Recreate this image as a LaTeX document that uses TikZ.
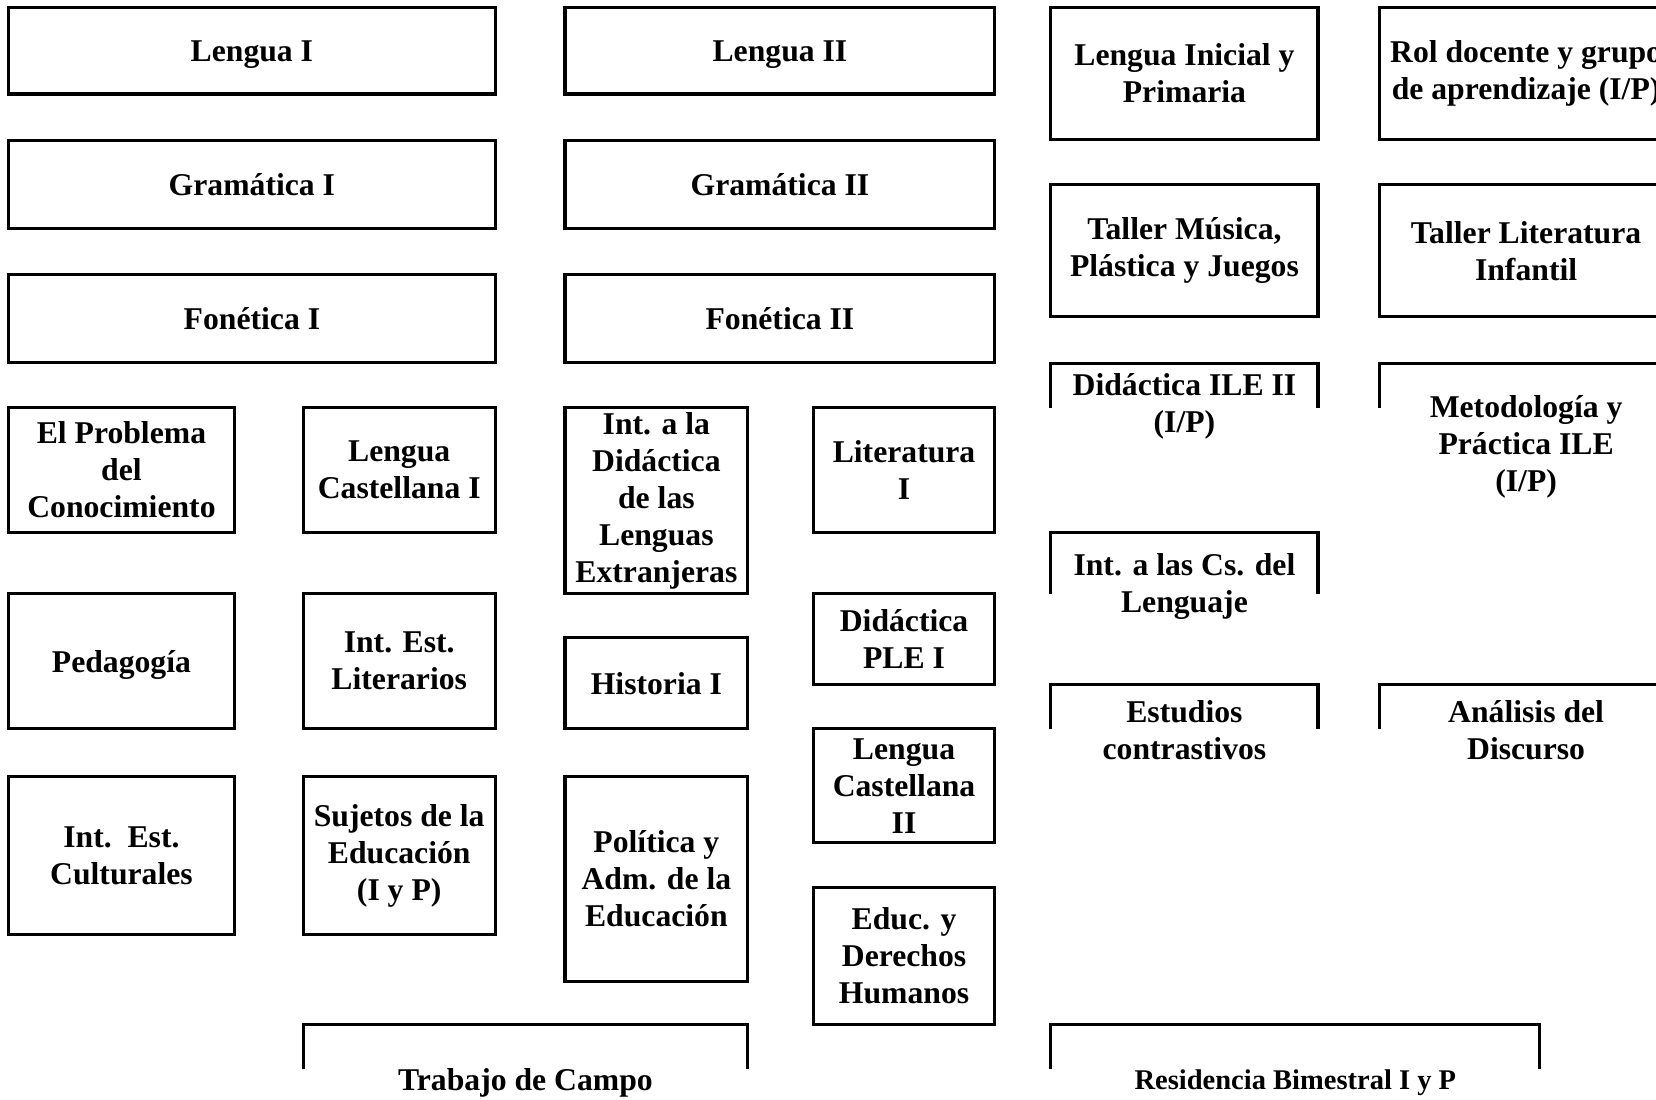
\documentclass[tikz,border=0pt]{standalone}
\usepackage{fontspec}
\setmainfont{Liberation Serif}
\usepackage{tikz}
\usetikzlibrary{positioning,calc}
\tikzstyle{coursebox} = [draw, rectangle, line width=3pt, inner sep=0pt, align=center,
  font=\fontsize{30}{35}\selectfont\bfseries]
\tikzstyle{coursetext} = [draw=none, inner sep=0pt, align=center,
  font=\fontsize{30}{35}\selectfont\bfseries]
\tikzstyle{bracket} = [line width=3pt, line join=miter]

\begin{document}
\begin{tikzpicture}[x=1pt,y=-1pt]
    \useasboundingbox (0,0) rectangle (1568,1041);
    \clip (0,0) rectangle (1568,1041);
    % Wide boxes, first and second column
    \node[coursebox, minimum width=461pt, minimum height=82pt, text depth=0pt] (lengua1) at (238.5,48) {Lengua I};
    \node[coursebox, minimum width=461pt, minimum height=83pt] (gramatica1) at (238.5,174.5) {Gramática I};
    \node[coursebox, minimum width=461pt, minimum height=83pt] (fonetica1) at (238.5,301.5) {Fonética I};
    \node[coursebox, minimum width=407pt, minimum height=82pt, text depth=0pt] (lengua2) at (738.5,48) {Lengua II};
    \node[coursebox, minimum width=407pt, minimum height=83pt] (gramatica2) at (738.5,174.5) {Gramática II};
    \node[coursebox, minimum width=407pt, minimum height=83pt] (fonetica2) at (738.5,301.5) {Fonética II};
    % Third and fourth column
    \node[coursebox, minimum width=253pt, minimum height=125pt] (inicial) at (1121.5,69.5) {Lengua Inicial y\\Primaria};
    \node[coursebox, minimum width=278pt, minimum height=125pt] (rol) at (1445,69.5) {Rol docente y grupo\\de aprendizaje (I/P)};
    \node[coursebox, minimum width=253pt, minimum height=125pt] (tallermusica) at (1121.5,237.5) {Taller Música,\\Plástica y Juegos};
    \node[coursebox, minimum width=278pt, minimum height=125pt] (tallerliteratura) at (1445,237.5) {Taller Literatura\\Infantil};
    % Small boxes, left half
    \node[coursebox, minimum width=214pt, minimum height=118pt] (problema) at (115,445) {El Problema\\del\\Conocimiento};
    \node[coursebox, minimum width=182pt, minimum height=118pt] (castellana1) at (378,445) {Lengua\\Castellana I};
    \node[coursebox, minimum width=214pt, minimum height=128pt, text depth=0pt] (pedagogia) at (115,626) {Pedagogía};
    \node[coursebox, minimum width=182pt, minimum height=128pt] (literarios) at (378,626) {Int. Est.\\Literarios};
    \node[coursebox, minimum width=214pt, minimum height=150pt] (culturales) at (115,810) {Int.\ \ Est.\\Culturales};
    \node[coursebox, minimum width=182pt, minimum height=150pt] (sujetos) at (378,810) {Sujetos de la\\Educación\\(I y P)};
    \node[coursebox, minimum width=173pt, minimum height=176pt] (introdidactica) at (621.5,474) {Int. a la\\Didáctica\\de las\\Lenguas\\Extranjeras};
    \node[coursebox, minimum width=173pt, minimum height=86pt] (historia) at (621.5,647) {Historia I};
    \node[coursebox, minimum width=173pt, minimum height=194pt] (politica) at (621.5,832) {Política y\\Adm. de la\\Educación};
    \node[coursebox, minimum width=172pt, minimum height=118pt] (literatura) at (856,445) {Literatura\\I};
    \node[coursebox, minimum width=172pt, minimum height=86pt] (didacticaple) at (856,605) {Didáctica\\PLE I};
    \node[coursebox, minimum width=172pt, minimum height=108pt] (castellana2) at (856,744) {Lengua\\Castellana\\II};
    \node[coursebox, minimum width=172pt, minimum height=130pt] (derechos) at (856,905) {Educ. y\\Derechos\\Humanos};
    % Open boxes
    \node[coursetext] (didacticaile) at (1121.5,385) {Didáctica ILE II\\(I/P)};
    \draw[bracket] (995,386) -- (995,344) -- (1248,344) -- (1248,386);
    \node[coursetext] (metodologia) at (1445,423) {Metodología y\\Práctica ILE\\(I/P)};
    \draw[bracket] (1306,386) -- (1306,344) -- (1584,344) -- (1584,386);
    \node[coursetext] (ciencias) at (1121.5,555) {Int. a las Cs. del\\Lenguaje};
    \draw[bracket] (995,562) -- (995,504) -- (1248,504) -- (1248,562);
    \node[coursetext] (contrastivos) at (1121.5,691) {Estudios\\contrastivos};
    \draw[bracket] (995,690) -- (995,648) -- (1248,648) -- (1248,690);
    \node[coursetext] (discurso) at (1445,691) {Análisis del\\Discurso};
    \draw[bracket] (1306,690) -- (1306,648) -- (1584,648) -- (1584,690);
    \node[coursetext] (campo) at (497.5,1025) {Trabajo de Campo};
    \draw[bracket] (287,1012) -- (287,970) -- (708,970) -- (708,1012);
    \node[coursetext, font=\fontsize{27}{32}\selectfont\bfseries] (residencia) at (1226.5,1025) {Residencia Bimestral I y P};
    \draw[bracket] (995,1012) -- (995,970) -- (1458,970) -- (1458,1012);
\end{tikzpicture}
\end{document}
